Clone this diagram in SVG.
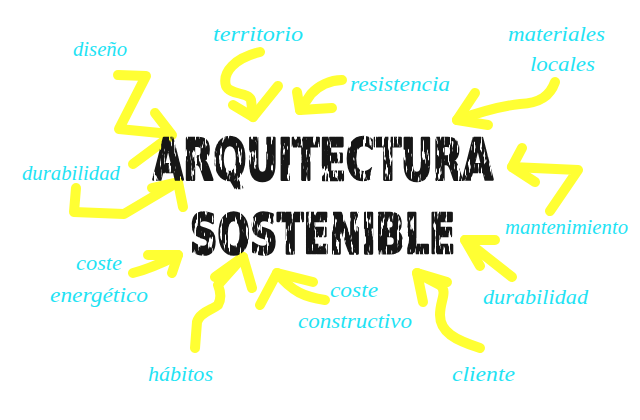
<svg xmlns="http://www.w3.org/2000/svg" width="640" height="420" viewBox="0 0 640 420">
<defs>
<style>
.arr{fill:none;stroke:#ffff33;stroke-width:10;stroke-linecap:round;stroke-linejoin:round}
.lbl{font-family:"Liberation Serif","DejaVu Serif",serif;font-style:italic;font-size:22px;fill:#1fe3f4}
.ttl{font-family:"Liberation Sans Narrow","DejaVu Sans Condensed","DejaVu Sans",sans-serif;font-weight:bold;fill:#141414;stroke:#141414;stroke-width:2;stroke-linejoin:round}
</style>
<filter id="grunge" x="-2%" y="-5%" width="104%" height="110%">
<feTurbulence type="fractalNoise" baseFrequency="0.35 0.06" numOctaves="3" seed="7" result="n"/>
<feColorMatrix in="n" type="matrix" values="0 0 0 0 0  0 0 0 0 0  0 0 0 0 0  -12 0 0 0 8.0" result="m"/>
<feComposite in="SourceGraphic" in2="m" operator="in"/>
</filter>
</defs>
<rect width="640" height="420" fill="#ffffff"/>
<g id="connectors">
<path class="arr" d="M118,75 L146,76 L119,129 L170,134"/><path class="arr" d="M155,113 L172,135 L133,164"/>
<path class="arr" d="M76,188 L74,212 L124,214 L178,182"/><path class="arr" d="M152,188 L178,182 L183,207"/>
<path class="arr" d="M260,52 C235,58 222,72 226,86 C230,95 248,92 251,100 L253,117"/><path class="arr" d="M233,105 L253,117 L278,86"/>
<path class="arr" d="M342,80 C330,80 318,86 311,94 L300,110"/><path class="arr" d="M297,92 L300,110 L332,108"/>
<path class="arr" d="M555,82 C550,96 540,103 520,104 C500,106 480,112 457,120"/><path class="arr" d="M475,93 L457,120 L488,125"/>
<path class="arr" d="M550,211 L578,170 L512,167"/><path class="arr" d="M522,148 L512,167 L535,182"/>
<path class="arr" d="M512,277 L465,240"/><path class="arr" d="M495,240 L465,240 L480,266"/>
<path class="arr" d="M480,348 C455,340 440,332 440,315 C440,300 448,292 440,285 L417,273"/><path class="arr" d="M447,282 L417,273 L423,302"/>
<path class="arr" d="M325,300 C305,297 292,292 277,273"/><path class="arr" d="M313,282 L277,273 L260,305"/>
<path class="arr" d="M195,348 L197,322 C200,312 212,310 218,305 C222,298 220,290 218,285 L243,257"/><path class="arr" d="M215,277 L243,257 L252,288"/>
<path class="arr" d="M133,273 C145,270 158,265 178,255"/><path class="arr" d="M148,255 L178,255 L172,273"/>
</g>
<g id="title" filter="url(#grunge)">
<text class="ttl" transform="translate(153,180) scale(1,1.34)" x="0" y="0" font-size="43" textLength="340" lengthAdjust="spacingAndGlyphs">ARQUITECTURA</text>
<text class="ttl" transform="translate(190,253) scale(1,1.31)" x="0" y="0" font-size="42" textLength="265" lengthAdjust="spacingAndGlyphs">SOSTENIBLE</text>
</g>
<g id="n-diseno"><text class="lbl" x="73" y="56" textLength="54" lengthAdjust="spacingAndGlyphs">diseño</text></g>
<g id="n-territorio"><text class="lbl" x="213" y="41" textLength="90" lengthAdjust="spacingAndGlyphs">territorio</text></g>
<g id="n-resistencia"><text class="lbl" x="350" y="91" textLength="100" lengthAdjust="spacingAndGlyphs">resistencia</text></g>
<g id="n-materiales"><text class="lbl" x="508" y="41" textLength="97" lengthAdjust="spacingAndGlyphs">materiales</text><text class="lbl" x="530" y="71" textLength="65" lengthAdjust="spacingAndGlyphs">locales</text></g>
<g id="n-durabilidad1"><text class="lbl" x="22" y="180" textLength="98" lengthAdjust="spacingAndGlyphs">durabilidad</text></g>
<g id="n-coste-energetico"><text class="lbl" x="76" y="270" textLength="46" lengthAdjust="spacingAndGlyphs">coste</text><text class="lbl" x="50" y="302" textLength="98" lengthAdjust="spacingAndGlyphs">energético</text></g>
<g id="n-habitos"><text class="lbl" x="148" y="381" textLength="65" lengthAdjust="spacingAndGlyphs">hábitos</text></g>
<g id="n-coste-constructivo"><text class="lbl" x="330" y="297" textLength="48" lengthAdjust="spacingAndGlyphs">coste</text><text class="lbl" x="298" y="328" textLength="114" lengthAdjust="spacingAndGlyphs">constructivo</text></g>
<g id="n-cliente"><text class="lbl" x="452" y="381" textLength="63" lengthAdjust="spacingAndGlyphs">cliente</text></g>
<g id="n-durabilidad2"><text class="lbl" x="483" y="304" textLength="105" lengthAdjust="spacingAndGlyphs">durabilidad</text></g>
<g id="n-mantenimiento"><text class="lbl" x="505" y="234" textLength="123" lengthAdjust="spacingAndGlyphs">mantenimiento</text></g>
</svg>
